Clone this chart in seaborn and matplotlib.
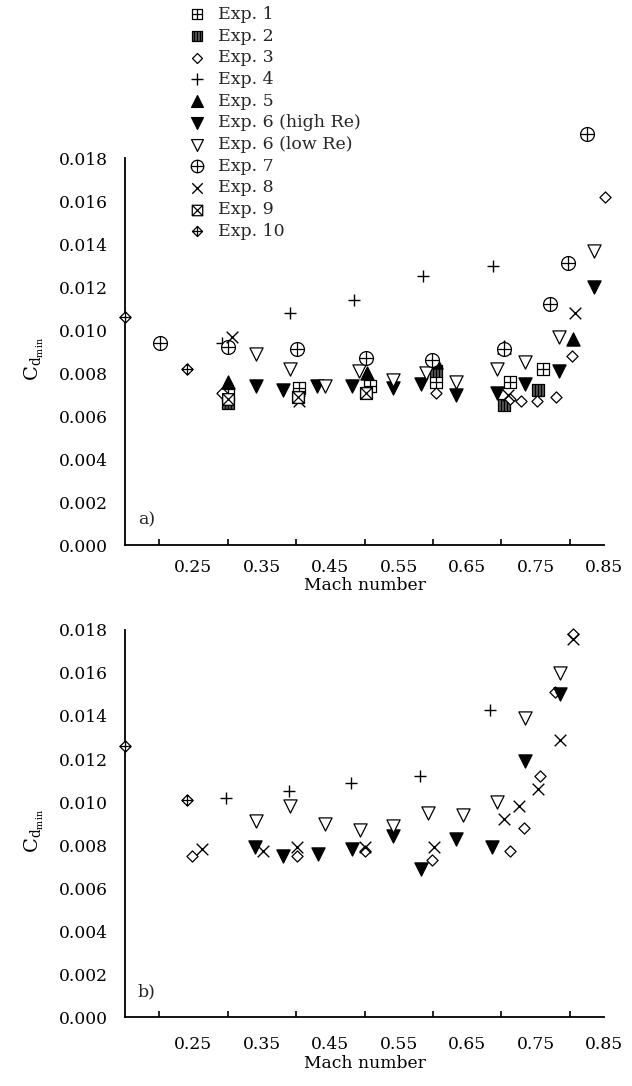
import numpy as np
import pandas as pd
import seaborn as sns
import matplotlib.pyplot as plt
from matplotlib.path import Path
from matplotlib.ticker import FixedLocator, FormatStrFormatter

# ---------------- data: panel a) ----------------
a_exp1_mach = [0.300, 0.404, 0.508, 0.604, 0.712, 0.761]
a_exp1_cd = [0.0070, 0.0073, 0.0074, 0.0076, 0.0076, 0.0082]
a_exp2_mach = [0.300, 0.403, 0.502, 0.604, 0.704, 0.754]
a_exp2_cd = [0.0066, 0.0069, 0.0071, 0.0081, 0.0065, 0.0072]
a_exp3_mach = [0.291, 0.604, 0.712, 0.729, 0.752, 0.780, 0.803, 0.852]
a_exp3_cd = [0.0071, 0.0071, 0.0068, 0.0067, 0.0067, 0.0069, 0.0088, 0.0162]
a_exp4_mach = [0.291, 0.391, 0.485, 0.585, 0.687]
a_exp4_cd = [0.0094, 0.0108, 0.0114, 0.0125, 0.0130]
a_exp5_mach = [0.301, 0.503, 0.604, 0.704, 0.804]
a_exp5_cd = [0.0076, 0.0080, 0.0085, 0.0092, 0.0096]
a_exp6h_mach = [0.341, 0.381, 0.431, 0.481, 0.542, 0.582, 0.633, 0.694, 0.735, 0.784, 0.835]
a_exp6h_cd = [0.0074, 0.0072, 0.0074, 0.0074, 0.0073, 0.0075, 0.0070, 0.0071, 0.0075, 0.0081, 0.0120]
a_exp6l_mach = [0.341, 0.391, 0.442, 0.492, 0.542, 0.590, 0.633, 0.694, 0.735, 0.784, 0.835]
a_exp6l_cd = [0.0089, 0.0082, 0.0074, 0.0081, 0.0077, 0.0080, 0.0076, 0.0082, 0.0085, 0.0097, 0.0137]
a_exp7_mach = [0.201, 0.301, 0.401, 0.502, 0.599, 0.704, 0.771, 0.798, 0.825]
a_exp7_cd = [0.0094, 0.0092, 0.0091, 0.0087, 0.0086, 0.0091, 0.0112, 0.0131, 0.0191]
a_exp8_mach = [0.307, 0.404, 0.710, 0.808]
a_exp8_cd = [0.0097, 0.0067, 0.0070, 0.0108]
a_exp9_mach = [0.300, 0.403, 0.502]
a_exp9_cd = [0.0068, 0.0069, 0.0071]
a_exp10_mach = [0.150, 0.240]
a_exp10_cd = [0.0106, 0.0082]

# ---------------- data: panel b) ----------------
b_exp3_mach = [0.248, 0.401, 0.500, 0.598, 0.712, 0.733, 0.756, 0.779, 0.804]
b_exp3_cd = [0.0075, 0.0075, 0.0077, 0.0073, 0.0077, 0.0088, 0.0112, 0.0151, 0.0178]
b_exp4_mach = [0.298, 0.389, 0.480, 0.581, 0.684]
b_exp4_cd = [0.0102, 0.0105, 0.0109, 0.0112, 0.0143]
b_exp6h_mach = [0.340, 0.381, 0.432, 0.481, 0.542, 0.582, 0.633, 0.686, 0.734, 0.785]
b_exp6h_cd = [0.0079, 0.0075, 0.0076, 0.0078, 0.0084, 0.0069, 0.0083, 0.0079, 0.0119, 0.0150]
b_exp6l_mach = [0.341, 0.391, 0.442, 0.493, 0.542, 0.593, 0.644, 0.694, 0.734, 0.785]
b_exp6l_cd = [0.0091, 0.0098, 0.0090, 0.0087, 0.0089, 0.0095, 0.0094, 0.0100, 0.0139, 0.0160]
b_exp8_mach = [0.262, 0.351, 0.401, 0.500, 0.602, 0.704, 0.725, 0.754, 0.785, 0.804]
b_exp8_cd = [0.0078, 0.0077, 0.0079, 0.0079, 0.0079, 0.0092, 0.0098, 0.0106, 0.0129, 0.0176]
b_exp10_mach = [0.150, 0.241]
b_exp10_cd = [0.0126, 0.0101]

labels = ["Exp. 1", "Exp. 2", "Exp. 3", "Exp. 4", "Exp. 5", "Exp. 6 (high Re)",
          "Exp. 6 (low Re)", "Exp. 7", "Exp. 8", "Exp. 9", "Exp. 10"]
x_ticks = [0.25, 0.35, 0.45, 0.55, 0.65, 0.75, 0.85]
x_minor = [0.20, 0.30, 0.40, 0.50, 0.60, 0.70, 0.80]
y_ticks = [0.000, 0.002, 0.004, 0.006, 0.008, 0.010, 0.012, 0.014, 0.016, 0.018]

# ---------------- custom marker shapes ----------------
M, L, C = Path.MOVETO, Path.LINETO, Path.CLOSEPOLY


def boxed(outline, inner):
    verts = list(outline) + [(0, 0)]
    codes = [M] + [L] * (len(outline) - 1) + [C]
    for a, b in inner:
        verts += [a, b]
        codes += [M, L]
    return Path(verts, codes)


square = [(-1, -1), (1, -1), (1, 1), (-1, 1)]
diamond = [(0, -1), (1, 0), (0, 1), (-1, 0)]
plus_lines = [((0, -1), (0, 1)), ((-1, 0), (1, 0))]
sq_plus = boxed(square, plus_lines)
sq_cross = boxed(square, [((-1, -1), (1, 1)), ((-1, 1), (1, -1))])
sq_stripe = boxed(square, [((-0.5, -1), (-0.5, 1)), ((0, -1), (0, 1)), ((0.5, -1), (0.5, 1))])
dia_plus = boxed(diamond, plus_lines)
circ_plus = Path.make_compound_path(Path.unit_circle(),
                                    Path([(0, -1), (0, 1)], [M, L]),
                                    Path([(-1, 0), (1, 0)], [M, L]))

# label -> (marker, facecolor, size)
styles = {
    "Exp. 1": (sq_plus, "white", 70),
    "Exp. 2": (sq_stripe, "#5a5a5a", 70),
    "Exp. 3": ("D", "white", 32),
    "Exp. 4": ("+", None, 85),
    "Exp. 5": ("^", "black", 90),
    "Exp. 6 (high Re)": ("v", "black", 90),
    "Exp. 6 (low Re)": ("v", "white", 90),
    "Exp. 7": (circ_plus, "white", 100),
    "Exp. 8": ("x", None, 70),
    "Exp. 9": (sq_cross, "white", 70),
    "Exp. 10": (dia_plus, "white", 65),
}

panel_a = {
    "Exp. 1": (a_exp1_mach, a_exp1_cd), "Exp. 2": (a_exp2_mach, a_exp2_cd),
    "Exp. 3": (a_exp3_mach, a_exp3_cd), "Exp. 4": (a_exp4_mach, a_exp4_cd),
    "Exp. 5": (a_exp5_mach, a_exp5_cd), "Exp. 6 (high Re)": (a_exp6h_mach, a_exp6h_cd),
    "Exp. 6 (low Re)": (a_exp6l_mach, a_exp6l_cd), "Exp. 7": (a_exp7_mach, a_exp7_cd),
    "Exp. 8": (a_exp8_mach, a_exp8_cd), "Exp. 9": (a_exp9_mach, a_exp9_cd),
    "Exp. 10": (a_exp10_mach, a_exp10_cd),
}
panel_b = {
    "Exp. 3": (b_exp3_mach, b_exp3_cd), "Exp. 4": (b_exp4_mach, b_exp4_cd),
    "Exp. 6 (high Re)": (b_exp6h_mach, b_exp6h_cd), "Exp. 6 (low Re)": (b_exp6l_mach, b_exp6l_cd),
    "Exp. 8": (b_exp8_mach, b_exp8_cd), "Exp. 10": (b_exp10_mach, b_exp10_cd),
}

sns.set_theme(style="white")
plt.rcParams["font.family"] = ["DejaVu Serif"]
plt.rcParams["mathtext.fontset"] = "dejavuserif"
plt.rcParams["font.size"] = 12

fig = plt.figure(figsize=(6.32, 10.86), dpi=100)
ax_a = fig.add_axes([0.1978, 0.498, 0.758, 0.3564])
ax_b = fig.add_axes([0.1978, 0.0635, 0.758, 0.3564])


def draw_panel(ax, series, tag, tick_pad, xlab_y):
    for name in labels:
        if name not in series:
            continue
        xs, ys = series[name]
        df = pd.DataFrame({"mach": xs, "cd": ys})
        marker, face, size = styles[name]
        kw = dict(marker=marker, s=size, clip_on=False, zorder=3, legend=False, label=name)
        if face is None:
            kw.update(color="black", linewidth=1.0)
        else:
            kw.update(color=face, edgecolor="black", linewidth=0.9)
        sns.scatterplot(data=df, x="mach", y="cd", ax=ax, **kw)

    ax.set_xlim(0.15, 0.85)
    ax.set_ylim(0.0, 0.018)
    ax.xaxis.set_major_locator(FixedLocator(x_ticks))
    ax.xaxis.set_minor_locator(FixedLocator(x_minor))
    ax.yaxis.set_major_locator(FixedLocator(y_ticks))
    ax.xaxis.set_major_formatter(FormatStrFormatter("%.2f"))
    ax.yaxis.set_major_formatter(FormatStrFormatter("%.3f"))
    ax.tick_params(which="major", direction="in", length=8, width=1.2, color="black",
                   labelsize=12.3, labelcolor="black")
    ax.tick_params(which="minor", direction="in", length=4, width=1.2, color="black")
    ax.tick_params(axis="x", which="major", pad=tick_pad)
    ax.tick_params(axis="y", which="major", pad=12)
    ax.xaxis.set_tick_params(which="minor", bottom=True)
    sns.despine(ax=ax)
    for side in ("left", "bottom"):
        ax.spines[side].set_linewidth(1.3)
        ax.spines[side].set_color("black")
    ax.set_xlabel("Mach number", fontsize=12.3, color="black")
    ax.set_ylabel(r"$\mathrm{C}_{\mathrm{d}_{\mathrm{min}}}$", fontsize=14, color="black")
    ax.xaxis.set_label_coords(0.5, xlab_y)
    ax.yaxis.set_label_coords(-0.165, 0.48)
    ax.text(0.027, 0.065, tag, transform=ax.transAxes, fontsize=12.5, va="center", ha="left")


draw_panel(ax_a, panel_a, "a)", 10, -0.083)
draw_panel(ax_b, panel_b, "b)", 14, -0.097)

handles, labs = ax_a.get_legend_handles_labels()
fig.legend(handles, labs, loc="upper left", bbox_to_anchor=(0.2975, 0.9945),
           frameon=False, handlelength=1.0, handletextpad=0.7, labelspacing=0.27,
           borderpad=0, borderaxespad=0, fontsize=12.5, markerscale=0.9)

fig.savefig("out.png", dpi=100)
